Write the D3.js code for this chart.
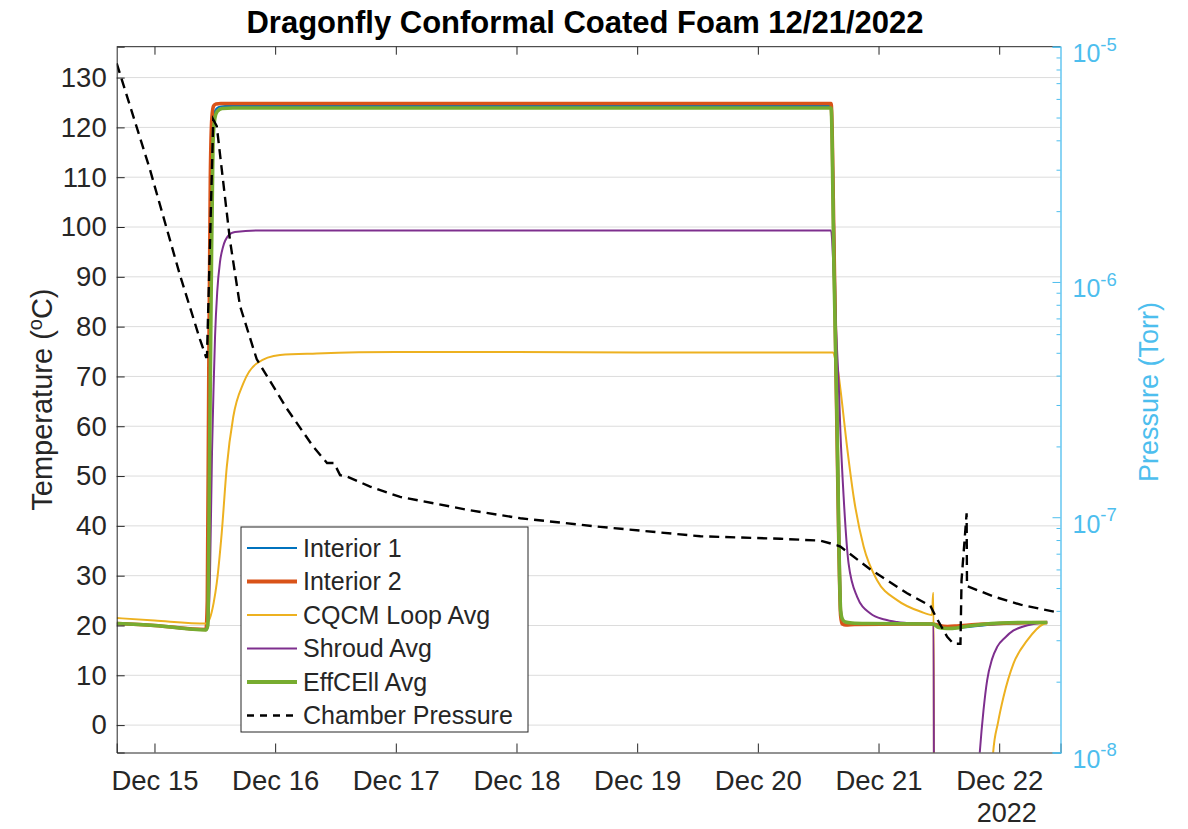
<!DOCTYPE html>
<html>
<head>
<meta charset="utf-8">
<script src="https://cdn.jsdelivr.net/npm/d3@7"></script>
<style>
  body { margin: 0; background: #fff; }
  svg text { font-family: "Liberation Sans", Arial, sans-serif; fill: #262626; }
</style>
</head>
<body>
<div id="chart"></div>
<script>
// times are day-of-December (15.5 = Dec 15 12:00), temperatures in degC, pressure in Torr
const tInt1 = [14.687, 15.0, 15.427, 15.440, 15.452, 15.466, 15.480, 15.495, 15.515, 15.55, 15.62, 20.607, 20.635, 20.66, 20.676, 20.69, 20.71, 20.75, 20.85, 21.45, 21.52, 21.57, 21.65, 21.75, 21.9, 22.1, 22.398];
const int1  = [20.4, 20.0, 19.1, 22, 60, 100, 119, 122.8, 123.8, 124.2, 124.3, 124.3, 95, 60, 35, 22.5, 20.9, 20.5, 20.4, 20.3, 19.6, 19.4, 19.5, 19.7, 20.1, 20.4, 20.6];

const tInt2 = [14.687, 15.0, 15.427, 15.438, 15.450, 15.463, 15.476, 15.490, 15.51, 15.55, 20.607, 20.632, 20.655, 20.672, 20.686, 20.70, 20.73, 20.8, 21.45, 21.5, 21.57, 21.65, 21.75, 21.9, 22.1, 22.398];
const int2  = [20.4, 20.0, 19.2, 25, 70, 110, 122, 124.3, 124.7, 124.8, 124.8, 95, 60, 35, 22, 20.3, 20.1, 20.2, 20.3, 20.0, 19.8, 19.9, 20.1, 20.3, 20.5, 20.6];

const tCqcm = [14.687, 15.0, 15.433, 15.46, 15.49, 15.516, 15.557, 15.599, 15.653, 15.736, 15.847, 16.041, 16.345, 17.0, 18.0, 19.0, 20.0, 20.624, 20.645, 20.665, 20.684, 20.739, 20.794, 20.877, 20.988, 21.154, 21.347, 21.444, 21.452, 21.456, 21.462, 21.90, 21.93, 21.950, 21.99, 22.036, 22.119, 22.232, 22.367, 22.398];
const cqcm  = [21.5, 21.0, 20.4, 21.5, 24.5, 28.5, 38.5, 51.8, 61.9, 68.6, 72.6, 74.3, 74.6, 74.9, 74.9, 74.8, 74.8, 74.8, 73.0, 71.0, 67.5, 55.9, 45.8, 35.8, 29.1, 25.1, 22.8, 22.1, 26.5, 26.5, -40, -40, -15, -5.5, 0.5, 5.7, 12.4, 17, 20.3, 20.5];

const tShroud = [14.687, 15.0, 15.427, 15.44, 15.46, 15.477, 15.49, 15.502, 15.52, 15.543, 15.568, 15.61, 15.667, 15.875, 20.607, 20.63, 20.655, 20.671, 20.684, 20.711, 20.752, 20.822, 20.933, 21.05, 21.154, 21.3, 21.456, 21.462, 21.75, 21.80, 21.839, 21.87, 21.9, 21.94, 21.983, 22.05, 22.119, 22.2, 22.284, 22.398];
const shroud  = [20.4, 20.0, 19.2, 19.5, 30, 55, 68, 78, 87, 93, 96, 98.2, 99, 99.3, 99.3, 90, 76, 68, 59, 45.8, 32.4, 25.8, 22.4, 21.2, 20.7, 20.4, 20.3, -40, -40, -20, -5.5, 3, 9, 13.2, 15.7, 17.6, 19, 19.8, 20.3, 20.7];

const tEff = [14.687, 15.0, 15.427, 15.442, 15.455, 15.469, 15.485, 15.50, 15.52, 15.56, 15.65, 20.607, 20.632, 20.657, 20.673, 20.686, 20.70, 20.725, 20.78, 20.9, 21.45, 21.50, 21.57, 21.65, 21.72, 21.85, 22.011, 22.2, 22.398];
const effCell = [20.4, 20.0, 19.1, 20, 50, 85, 117, 121.8, 123.2, 123.8, 123.9, 123.9, 90, 60, 35, 23, 21.3, 20.7, 20.5, 20.4, 20.3, 19.6, 19.4, 19.5, 19.8, 20.2, 20.5, 20.6, 20.6];

const tPress = [14.687, 14.963, 15.211, 15.377, 15.427, 15.435, 15.487, 15.516, 15.626, 15.709, 15.847, 16.096, 16.314, 16.430, 16.488, 16.538, 16.594, 16.787, 17.036, 17.616, 18.031, 18.695, 19.524, 20.187, 20.519, 20.657, 20.684, 20.933, 21.237, 21.430, 21.472, 21.569, 21.621, 21.679, 21.688, 21.730, 21.733, 21.955, 22.177, 22.453];
const pressure = [8.5e-6, 3.0e-6, 1.07e-6, 5.7e-7, 4.8e-7, 4.8e-7, 4.9e-6, 4.6e-6, 1.5e-6, 7.9e-7, 4.7e-7, 2.9e-7, 2.0e-7, 1.7e-7, 1.7e-7, 1.51e-7, 1.49e-7, 1.35e-7, 1.22e-7, 1.07e-7, 9.9e-8, 9.1e-8, 8.3e-8, 8.1e-8, 7.95e-8, 7.6e-8, 7.5e-8, 6.0e-8, 4.75e-8, 4.2e-8, 3.8e-8, 3.1e-8, 2.9e-8, 2.9e-8, 5.4e-8, 1.04e-7, 5.1e-8, 4.6e-8, 4.25e-8, 3.97e-8];

const seriesNames = ["Interior 1", "Interior 2", "CQCM Loop Avg", "Shroud Avg", "EffCEll Avg", "Chamber Pressure"];
const tempTicks = [0, 10, 20, 30, 40, 50, 60, 70, 80, 90, 100, 110, 120, 130];
const pressTicks = [1e-8, 1e-7, 1e-6, 1e-5];
const xDomain = [14.687, 22.508];
const tempDomain = [-5.5, 136.2];
const pressDomain = [1e-8, 1e-5];

const W = 1188, H = 829;
const margin = { top: 46.7, right: 127.5, bottom: 76.5, left: 116.7 };
const width = W - margin.left - margin.right,
  height = H - margin.top - margin.bottom;

// day-of-December -> Date
const dec = d => new Date(new Date(2022, 11, 1).getTime() + (d - 1) * 864e5);

const svg = d3.select("#chart").append("svg")
  .attr("width", W).attr("height", H)
  .attr("xmlns", "http://www.w3.org/2000/svg");

const g = svg.append("g").attr("transform", `translate(${margin.left},${margin.top})`);

const x = d3.scaleTime().domain(xDomain.map(dec)).range([0, width]);
const y = d3.scaleLinear().domain(tempDomain).range([height, 0]);
const yR = d3.scaleLog().domain(pressDomain).range([height, 0]);

const blue = "#4DBEEE";

// grid
g.append("g").selectAll("line").data(tempTicks).join("line")
  .attr("x1", 0).attr("x2", width)
  .attr("y1", d => y(d)).attr("y2", d => y(d))
  .attr("stroke", "#dcdcdc").attr("stroke-width", 1);

g.append("clipPath").attr("id", "clip")
  .append("rect").attr("width", width).attr("height", height);

const plot = g.append("g").attr("clip-path", "url(#clip)");

const tempLine = d3.line()
  .x(d => x(dec(d[0])))
  .y(d => y(d[1]))
  .curve(d3.curveMonotoneX);

const temps = [
  { t: tInt1, v: int1, color: "#0072BD", w: 2.2 },
  { t: tInt2, v: int2, color: "#D95319", w: 3.6 },
  { t: tCqcm, v: cqcm, color: "#EDB120", w: 2 },
  { t: tShroud, v: shroud, color: "#7E2F8E", w: 2 },
  { t: tEff, v: effCell, color: "#77AC30", w: 3.6 }
];

plot.selectAll(".temp").data(temps).join("path")
  .attr("class", "temp")
  .attr("fill", "none")
  .attr("stroke", d => d.color)
  .attr("stroke-width", d => d.w)
  .attr("stroke-linejoin", "round")
  .attr("d", d => tempLine(d3.zip(d.t, d.v)));

const pressLine = d3.line()
  .x(d => x(dec(d[0])))
  .y(d => yR(d[1]));

plot.append("path")
  .attr("fill", "none")
  .attr("stroke", "#000")
  .attr("stroke-width", 2.4)
  .attr("stroke-dasharray", "10,6")
  .attr("d", pressLine(d3.zip(tPress, pressure)));

// box top
g.append("line").attr("x1", 0).attr("x2", width).attr("y1", 0).attr("y2", 0)
  .attr("stroke", "#262626");

// bottom axis
const xAxis = g.append("g").attr("transform", `translate(0,${height})`)
  .call(d3.axisBottom(x).ticks(d3.timeDay.every(1)).tickFormat(d3.timeFormat("%b %d"))
    .tickSize(-9).tickPadding(18));
xAxis.select(".domain").attr("stroke", "#262626");
xAxis.selectAll(".tick line").attr("stroke", "#262626");
xAxis.selectAll("text").attr("font-size", 27.5).attr("fill", "#262626");

// top ticks
const xTop = g.append("g")
  .call(d3.axisTop(x).ticks(d3.timeDay.every(1)).tickFormat("").tickSize(-8));
xTop.select(".domain").remove();
xTop.selectAll(".tick line").attr("stroke", "#262626");

g.append("text").attr("x", 890).attr("y", height + 70)
  .attr("text-anchor", "middle").attr("font-size", 27).text("2022");

// left axis
const yAxis = g.append("g")
  .call(d3.axisLeft(y).tickValues(tempTicks).tickSize(-8).tickPadding(10));
yAxis.select(".domain").attr("stroke", "#262626");
yAxis.selectAll(".tick line").attr("stroke", "#262626");
yAxis.selectAll("text").attr("font-size", 27.5).attr("fill", "#262626");

// right axis (log)
const minor = [];
pressTicks.slice(0, -1).forEach(p => { for (let k = 2; k <= 9; k++) minor.push(p * k); });
const yRAxis = g.append("g").attr("transform", `translate(${width},0)`)
  .call(d3.axisRight(yR).tickValues(pressTicks).tickSize(-8).tickFormat(""));
yRAxis.select(".domain").attr("stroke", blue).attr("stroke-width", 1.3);
yRAxis.selectAll(".tick line").attr("stroke", blue);
g.append("g").attr("transform", `translate(${width},0)`)
  .call(d3.axisRight(yR).tickValues(minor).tickSize(-4).tickFormat(""))
  .call(a => a.select(".domain").remove())
  .selectAll(".tick line").attr("stroke", blue);

const rLab = g.append("g").selectAll("text").data(pressTicks).join("text")
  .attr("x", width + 12).attr("y", d => yR(d) + 15.5)
  .attr("font-size", 25).style("fill", blue);
rLab.append("tspan").text("10");
rLab.append("tspan").attr("dy", -11.6).attr("font-size", 18.5)
  .text(d => "-" + Math.round(-Math.log10(d)));

// axis labels
g.append("text")
  .attr("transform", `translate(${52 - margin.left},${height / 2}) rotate(-90)`)
  .attr("text-anchor", "middle").attr("font-size", 29)
  .call(t => {
    t.append("tspan").text("Temperature (");
    t.append("tspan").attr("dy", -10).attr("font-size", 20).text("o");
    t.append("tspan").attr("dy", 10).text("C)");
  });

g.append("text")
  .attr("transform", `translate(${1158 - margin.left},${392 - margin.top}) rotate(-90)`)
  .attr("text-anchor", "middle").attr("font-size", 27).style("fill", blue)
  .text("Pressure (Torr)");

// title
svg.append("text").attr("x", 585).attr("y", 33)
  .attr("text-anchor", "middle").attr("font-size", 31).attr("font-weight", "bold")
  .style("fill", "#000")
  .text("Dragonfly Conformal Coated Foam 12/21/2022");

// legend
const legendItems = [
  { name: seriesNames[0], color: "#0072BD", w: 2.2 },
  { name: seriesNames[1], color: "#D95319", w: 4 },
  { name: seriesNames[2], color: "#EDB120", w: 2.2 },
  { name: seriesNames[3], color: "#7E2F8E", w: 2.2 },
  { name: seriesNames[4], color: "#77AC30", w: 4 },
  { name: seriesNames[5], color: "#000", w: 2.3, dash: "7,6" }
];
const lg = svg.append("g").attr("transform", "translate(241,527)");
lg.append("rect").attr("width", 287).attr("height", 205)
  .attr("fill", "#fff").attr("stroke", "#262626").attr("stroke-width", 1);
const li = lg.selectAll(".li").data(legendItems).join("g")
  .attr("class", "li")
  .attr("transform", (d, i) => `translate(0,${21 + i * 33.5})`);
li.append("line").attr("x1", 6).attr("x2", 56)
  .attr("stroke", d => d.color).attr("stroke-width", d => d.w)
  .attr("stroke-dasharray", d => d.dash || null);
li.append("text").attr("x", 62).attr("dy", "0.35em")
  .attr("font-size", 25).text(d => d.name);
</script>
</body>
</html>
